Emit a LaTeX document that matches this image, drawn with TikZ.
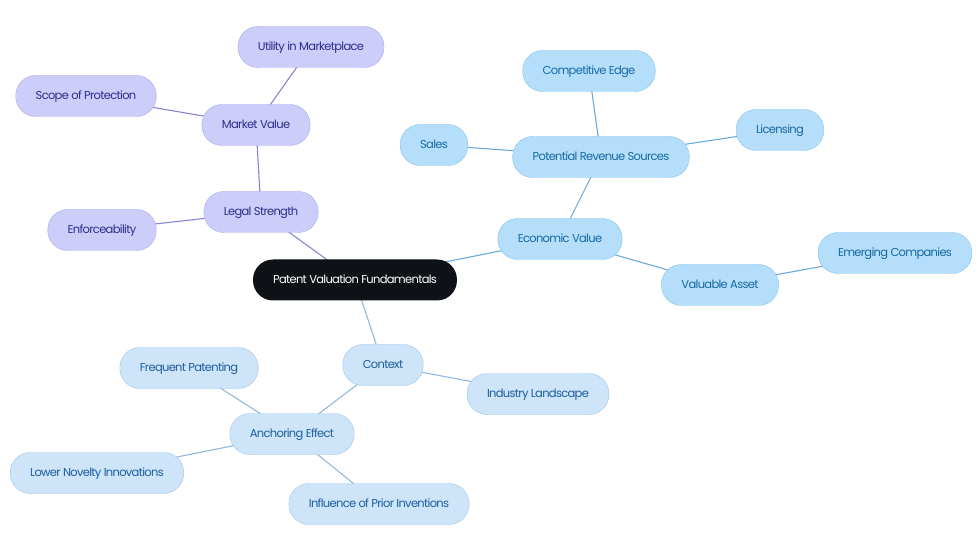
\documentclass[tikz,border=0pt]{standalone}
\usepackage{fontspec}
\setmainfont{Poppins}
\newfontfamily\mapfont[LetterSpace=-6]{Poppins}
\usepackage{xcolor}
\usepackage{tikz}
\usetikzlibrary{backgrounds}
\definecolor{rootfill}{HTML}{0E1217}
\definecolor{lavfill}{HTML}{CDCDFA}
\definecolor{lavdraw}{HTML}{A9A9EA}
\definecolor{lavtext}{HTML}{2D2D8C}
\definecolor{lavline}{HTML}{8585D2}
\definecolor{skyfill}{HTML}{B5DEFB}
\definecolor{skydraw}{HTML}{82C1EC}
\definecolor{skytext}{HTML}{1769A3}
\definecolor{skyline}{HTML}{6DAAD8}
\definecolor{icefill}{HTML}{CDE4F9}
\definecolor{icedraw}{HTML}{9EC4EA}
\definecolor{icetext}{HTML}{1E5E9F}
\definecolor{iceline}{HTML}{93B7DE}

\begin{document}
\begin{tikzpicture}[
  x=1pt, y=-1pt,
  topic/.style={rectangle, rounded corners=20pt, minimum height=41pt, inner xsep=20pt, text height=8.5pt, text depth=1.2pt, font=\mapfont\fontsize{11.5}{13}\selectfont},
  root/.style={topic, fill=rootfill, text=white},
  legal/.style={topic, fill=lavfill, draw=lavdraw, text=lavtext},
  econ/.style={topic, fill=skyfill, draw=skydraw, text=skytext},
  ctx/.style={topic, fill=icefill, draw=icedraw, text=icetext},
  link/.style={line width=1.1pt}
]
  \useasboundingbox (0,0) rectangle (980,553);

  \node[root] (fund) at (355,280) {Patent Valuation Fundamentals};

  % legal branch
  \node[legal] (strength) at (261,212) {Legal Strength};
  \node[legal] (market) at (256,125) {Market Value};
  \node[legal] (utility) at (311,47) {Utility in Marketplace};
  \node[legal] (scope) at (86,96) {Scope of Protection};
  \node[legal] (enforce) at (102,230) {Enforceability};

  % economic branch
  \node[econ] (economic) at (560,239) {Economic Value};
  \node[econ] (revenue) at (601,157) {Potential Revenue Sources};
  \node[econ] (edge) at (589,71) {Competitive Edge};
  \node[econ] (sales) at (434,145) {Sales};
  \node[econ] (licensing) at (780,130) {Licensing};
  \node[econ] (asset) at (720,285) {Valuable Asset};
  \node[econ] (emerging) at (895,253) {Emerging Companies};

  % context branch
  \node[ctx] (context) at (383,365) {Context};
  \node[ctx] (industry) at (538,394) {Industry Landscape};
  \node[ctx] (anchor) at (292,434) {Anchoring Effect};
  \node[ctx] (frequent) at (189,368) {Frequent Patenting};
  \node[ctx] (novelty) at (97,473) {Lower Novelty Innovations};
  \node[ctx] (prior) at (379,504) {Influence of Prior Inventions};

  \begin{scope}[on background layer]
    \draw[link, lavline] (fund.center) -- (strength.center);
    \draw[link, lavline] (strength.center) -- (market.center);
    \draw[link, lavline] (market.center) -- (utility.center);
    \draw[link, lavline] (market.center) -- (scope.center);
    \draw[link, lavline] (strength.center) -- (enforce.center);

    \draw[link, skyline] (fund.center) -- (economic.center);
    \draw[link, skyline] (economic.center) -- (revenue.center);
    \draw[link, skyline] (revenue.center) -- (edge.center);
    \draw[link, skyline] (revenue.center) -- (sales.center);
    \draw[link, skyline] (revenue.center) -- (licensing.center);
    \draw[link, skyline] (economic.center) -- (asset.center);
    \draw[link, skyline] (asset.center) -- (emerging.center);

    \draw[link, iceline] (fund.center) -- (context.center);
    \draw[link, iceline] (context.center) -- (industry.center);
    \draw[link, iceline] (context.center) -- (anchor.center);
    \draw[link, iceline] (anchor.center) -- (frequent.center);
    \draw[link, iceline] (anchor.center) -- (novelty.center);
    \draw[link, iceline] (anchor.center) -- (prior.center);
  \end{scope}
\end{tikzpicture}
\end{document}
